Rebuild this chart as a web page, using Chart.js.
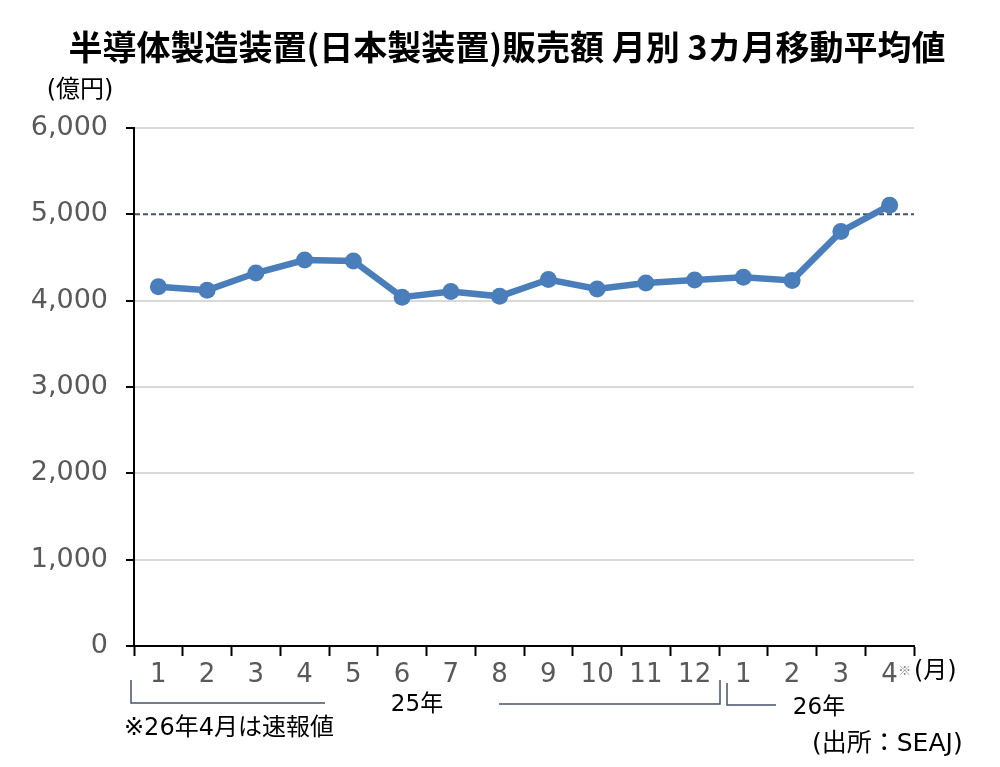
<!DOCTYPE html>
<html>
<head>
<meta charset="utf-8">
<script src="https://cdn.jsdelivr.net/npm/chart.js@4.4.1/dist/chart.umd.min.js"></script>
<style>
  html, body { margin: 0; padding: 0; background: #fff; }
  #wrap { width: 1000px; height: 767px; position: relative; }
</style>
</head>
<body>
<div id="wrap"><canvas id="c" width="1000" height="767"></canvas></div>
<script>
const TITLE = '半導体製造装置(日本製装置)販売額 月別 3カ月移動平均値';
const UNIT_LABEL = '(億円)';
const MONTH_LABELS = ['1','2','3','4','5','6','7','8','9','10','11','12','1','2','3','4'];
const SALES_3M_AVG = [4160, 4120, 4320, 4470, 4460, 4040, 4105, 4050, 4245, 4135, 4205, 4240, 4270, 4235, 4800, 5105];
const Y_TICKS = [0, 1000, 2000, 3000, 4000, 5000, 6000];
const REF_LINE_VALUE = 5000;
const YEAR_25 = '25年';
const YEAR_26 = '26年';
const FOOTNOTE = '※26年4月は速報値';
const SOURCE = '(出所：SEAJ)';
const MONTH_UNIT = '(月)';

const JP = '"Noto Sans CJK JP", "DejaVu Sans", sans-serif';
const NUM = '"DejaVu Sans", "Noto Sans CJK JP", sans-serif';

const overlay = {
  id: 'overlay',
  beforeDatasetsDraw(chart) {
    const {ctx, chartArea, scales} = chart;
    const y = scales.y.getPixelForValue(REF_LINE_VALUE);
    ctx.save();
    ctx.strokeStyle = '#44546A';
    ctx.lineWidth = 2;
    ctx.setLineDash([5, 3]);
    ctx.beginPath();
    ctx.moveTo(chartArea.left + 1, y);
    ctx.lineTo(chartArea.right, y);
    ctx.stroke();
    ctx.restore();
  },
  afterDraw(chart) {
    const {ctx, scales} = chart;
    const x = scales.x;
    ctx.save();
    // title
    ctx.fillStyle = '#000';
    ctx.textAlign = 'center';
    ctx.textBaseline = 'middle';
    ctx.font = 'bold 34px ' + JP;
    ctx.fillText(TITLE, 507, 47);
    // unit
    ctx.font = '24px ' + NUM;
    ctx.fillText(UNIT_LABEL, 80, 91);
    // ※ after last label
    const lastX = x.getPixelForValue(MONTH_LABELS.length - 1);
    ctx.fillStyle = '#8a8a8a';
    ctx.font = '13px ' + JP;
    ctx.fillText('※', lastX + 15, 670);
    ctx.fillStyle = '#000';
    ctx.font = '24px ' + NUM;
    ctx.textAlign = 'left';
    ctx.fillText(MONTH_UNIT, 914, 672);
    // brackets
    const b0 = x.left;
    const b12 = (x.getPixelForValue(11) + x.getPixelForValue(12)) / 2;
    ctx.strokeStyle = '#44546A';
    ctx.lineWidth = 1.5;
    ctx.beginPath();
    ctx.moveTo(b0 - 3, 680); ctx.lineTo(b0 - 3, 703); ctx.lineTo(325, 703);
    ctx.moveTo(499, 704); ctx.lineTo(b12 + 1, 704); ctx.lineTo(b12 + 1, 680);
    ctx.moveTo(b12 + 8, 683); ctx.lineTo(b12 + 8, 705); ctx.lineTo(776, 705);
    ctx.stroke();
    ctx.fillStyle = '#000';
    ctx.textAlign = 'center';
    ctx.font = '23px ' + NUM;
    ctx.fillText(YEAR_25, 417, 705);
    ctx.fillText(YEAR_26, 819, 708);
    ctx.textAlign = 'left';
    ctx.font = '24px ' + NUM;
    ctx.fillText(FOOTNOTE, 124, 729);
    ctx.font = '25px ' + NUM;
    ctx.fillText(SOURCE, 812, 744);
    ctx.restore();
  }
};

new Chart(document.getElementById('c'), {
  type: 'line',
  data: {
    labels: MONTH_LABELS,
    datasets: [{
      data: SALES_3M_AVG,
      borderColor: '#4A7EBB',
      backgroundColor: '#4A7EBB',
      borderWidth: 6.5,
      pointRadius: 8.5,
      pointHoverRadius: 8.5,
      pointBackgroundColor: '#4A7EBB',
      pointBorderColor: '#4A7EBB',
      pointBorderWidth: 0,
      tension: 0,
      fill: false
    }]
  },
  options: {
    responsive: false,
    animation: false,
    devicePixelRatio: 1,
    layout: { padding: { left: 0, right: 86, top: 128, bottom: 81 } },
    plugins: {
      legend: { display: false },
      title: { display: false },
      tooltip: { enabled: false }
    },
    scales: {
      x: {
        type: 'category',
        offset: true,
        afterFit: s => { s.height = 40; },
        grid: {
          offset: true,
          drawOnChartArea: false,
          drawTicks: true,
          tickLength: 10,
          tickColor: '#000',
          tickWidth: 2
        },
        border: { display: true, color: '#000', width: 2 },
        ticks: {
          color: '#595959',
          font: { family: NUM, size: 26 },
          padding: 4,
          maxRotation: 0,
          autoSkip: false
        }
      },
      y: {
        min: 0,
        max: 6000,
        afterFit: s => { s.width = 134; },
        afterBuildTicks: s => { s.ticks = Y_TICKS.map(v => ({ value: v })); },
        grid: {
          color: ctx => (ctx.tick && (ctx.tick.value === REF_LINE_VALUE || ctx.tick.value === 0)) ? 'rgba(0,0,0,0)' : '#d9d9d9',
          lineWidth: 2,
          tickColor: '#000',
          tickLength: 8,
          tickWidth: 2
        },
        border: { display: true, color: '#000', width: 2 },
        ticks: {
          color: '#595959',
          font: { family: NUM, size: 27 },
          padding: 18,
          callback: v => Number(v).toLocaleString('en-US')
        }
      }
    }
  },
  plugins: [overlay]
});
</script>
</body>
</html>
